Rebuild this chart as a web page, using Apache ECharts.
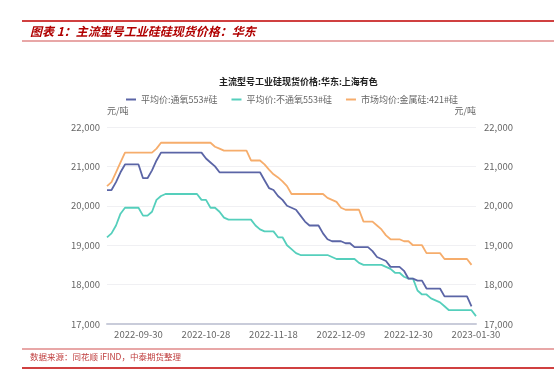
<!DOCTYPE html>
<html>
<head>
<meta charset="utf-8">
<script src="https://cdn.jsdelivr.net/npm/echarts@6/dist/echarts.min.js"></script>
<style>
html,body{margin:0;padding:0;background:#fff;}
#chart{width:554px;height:381px;}
</style>
</head>
<body>
<div id="chart"></div>
<script>
const dates = [
'2022-09-21','2022-09-22','2022-09-23','2022-09-26','2022-09-27','2022-09-28','2022-09-29','2022-09-30',
'2022-10-10','2022-10-11','2022-10-12','2022-10-13','2022-10-14',
'2022-10-17','2022-10-18','2022-10-19','2022-10-20','2022-10-21',
'2022-10-24','2022-10-25','2022-10-26','2022-10-27','2022-10-28',
'2022-10-31','2022-11-01','2022-11-02','2022-11-03','2022-11-04',
'2022-11-07','2022-11-08','2022-11-09','2022-11-10','2022-11-11',
'2022-11-14','2022-11-15','2022-11-16','2022-11-17','2022-11-18',
'2022-11-21','2022-11-22','2022-11-23','2022-11-24','2022-11-25',
'2022-11-28','2022-11-29','2022-11-30','2022-12-01','2022-12-02',
'2022-12-05','2022-12-06','2022-12-07','2022-12-08','2022-12-09',
'2022-12-12','2022-12-13','2022-12-14','2022-12-15','2022-12-16',
'2022-12-19','2022-12-20','2022-12-21','2022-12-22','2022-12-23',
'2022-12-26','2022-12-27','2022-12-28','2022-12-29','2022-12-30',
'2023-01-03','2023-01-04','2023-01-05','2023-01-06',
'2023-01-09','2023-01-10','2023-01-11','2023-01-12','2023-01-13',
'2023-01-16','2023-01-17','2023-01-18','2023-01-19','2023-01-20',
'2023-01-30'];

const seriesNames = ['平均价:通氧553#硅', '平均价:不通氧553#硅', '市场均价:金属硅:421#硅'];

const tongyang553 = [
20400,20400,20600,20850,21050,21050,21050,21050,20700,20700,20900,21150,21350,
21350,21350,21350,21350,21350,21350,21350,21350,21350,
21200,21100,21000,20850,
20850,20850,20850,20850,20850,20850,20850,20850,20850,
20650,20450,20400,20250,20150,20000,19950,19900,19750,19600,19500,19500,19500,19300,19150,19100,19100,19100,
19050,19050,18950,18950,18950,18950,18850,18700,18650,18600,18450,18450,18450,18350,18150,18150,18100,18100,
17900,17900,17900,17900,17700,17700,17700,17700,17700,17700,17450];

const butongyang553 = [
19200,19300,19500,19800,19950,19950,19950,19950,19750,19750,19850,20150,20250,
20300,20300,20300,20300,20300,20300,20300,20300,
20150,20150,19950,19950,19850,19700,
19650,19650,19650,19650,19650,19650,
19500,19400,19350,19350,19350,19200,19200,19000,18900,18800,
18750,18750,18750,18750,18750,18750,18750,
18700,18650,18650,18650,18650,18650,18550,18500,18500,18500,18500,18500,
18450,18400,18300,18300,18200,18150,18150,17850,17750,17750,17650,17600,17550,17450,
17350,17350,17350,17350,17350,17350,17200];

const metal421 = [
20500,20600,20850,21100,21350,21350,21350,21350,21350,21350,21350,21450,21600,
21600,21600,21600,21600,21600,21600,21600,21600,21600,21600,21600,
21500,21450,21400,21400,21400,21400,21400,21400,
21150,21150,21150,21050,20920,20800,20720,20620,20500,20300,
20300,20300,20300,20300,20300,20300,20300,
20200,20150,20100,19950,19900,19900,19900,19900,19600,19600,19600,19500,19400,19250,19150,19150,19150,
19100,19100,19000,19000,19000,18800,18800,18800,18800,
18650,18650,18650,18650,18650,18650,18500];

const yTicks = {min: 17000, max: 22000, step: 1000};
const chartTitle = '主流型号工业硅现货价格:华东:上海有色';
const unitLabel = '元/吨';
const figureTitle = '图表 1：主流型号工业硅硅现货价格：华东';
const sourceNote = '数据来源：同花顺 iFIND，中泰期货整理';

const colors = ['#5b65a6', '#55cfbc', '#f6ad6c'];
const FONT = '"Noto Sans CJK SC", "Noto Sans", sans-serif';

const chart = echarts.init(document.getElementById('chart'), null, {renderer: 'canvas'});

const yAxisBase = {
  type: 'value',
  min: yTicks.min, max: yTicks.max, interval: yTicks.step,
  name: unitLabel,
  nameLocation: 'end',
  nameGap: 12,
  axisLine: {show: false},
  axisTick: {show: false},
  axisLabel: {
    color: '#666', fontSize: 9.5, fontFamily: FONT,
    formatter: v => v.toLocaleString('en-US')
  }
};

chart.setOption({
  animation: false,
  color: colors,
  textStyle: {fontFamily: FONT},
  title: {
    text: chartTitle,
    left: 214, top: 72,
    textStyle: {fontSize: 9, fontWeight: 'bold', color: '#222', fontFamily: FONT}
  },
  legend: {
    left: 121, top: 90,
    itemWidth: 10, itemHeight: 2, itemGap: 14,
    icon: 'rect',
    textStyle: {fontSize: 9, color: '#666', fontFamily: FONT},
    data: seriesNames
  },
  grid: {left: 107, right: 78, top: 127, bottom: 57, containLabel: false},
  xAxis: {
    type: 'category',
    data: dates,
    boundaryGap: false,
    axisLine: {show: true, lineStyle: {color: '#c9ccda', width: 2}},
    axisTick: {show: false},
    splitLine: {show: false},
    axisLabel: {
      color: '#666', fontSize: 9.5, fontFamily: FONT, margin: 6,
      interval: (idx) => (idx - 7) % 15 === 0
    }
  },
  yAxis: [
    Object.assign({}, yAxisBase, {
      position: 'left',
      nameTextStyle: {color: '#666', fontSize: 9, align: 'left', fontFamily: FONT},
      axisLabel: Object.assign({}, yAxisBase.axisLabel, {margin: 7}),
      splitLine: {show: true, lineStyle: {color: '#f0f0f3', width: 1}}
    }),
    Object.assign({}, yAxisBase, {
      position: 'right',
      nameTextStyle: {color: '#666', fontSize: 9, align: 'right', fontFamily: FONT},
      axisLabel: Object.assign({}, yAxisBase.axisLabel, {margin: 8}),
      splitLine: {show: false}
    })
  ],
  series: [
    {name: seriesNames[0], type: 'line', data: tongyang553, symbol: 'none', lineStyle: {width: 1.8}, yAxisIndex: 0, z: 3},
    {name: seriesNames[1], type: 'line', data: butongyang553, symbol: 'none', lineStyle: {width: 1.8}, yAxisIndex: 0, z: 2},
    {name: seriesNames[2], type: 'line', data: metal421, symbol: 'none', lineStyle: {width: 1.8}, yAxisIndex: 0, z: 1}
  ],
  graphic: [
    {type: 'line', shape: {x1: 22, y1: 21, x2: 554, y2: 21}, style: {stroke: '#c00000', lineWidth: 1.5}},
    {type: 'text', left: 30, top: 25, style: {text: figureTitle, fill: '#b00000', font: 'italic bold 12px "Noto Sans CJK SC", sans-serif'}},
    {type: 'line', shape: {x1: 22, y1: 41, x2: 554, y2: 41}, style: {stroke: '#e08a8a', lineWidth: 1.5}},
    {type: 'line', shape: {x1: 22, y1: 349, x2: 554, y2: 349}, style: {stroke: '#e08a8a', lineWidth: 1.5}},
    {type: 'text', left: 30, top: 353, style: {text: sourceNote, fill: '#c04040', font: '8.5px "Noto Sans CJK SC", sans-serif'}},
    {type: 'line', shape: {x1: 22, y1: 368, x2: 554, y2: 368}, style: {stroke: '#c00000', lineWidth: 1.5}}
  ]
});
</script>
</body>
</html>
